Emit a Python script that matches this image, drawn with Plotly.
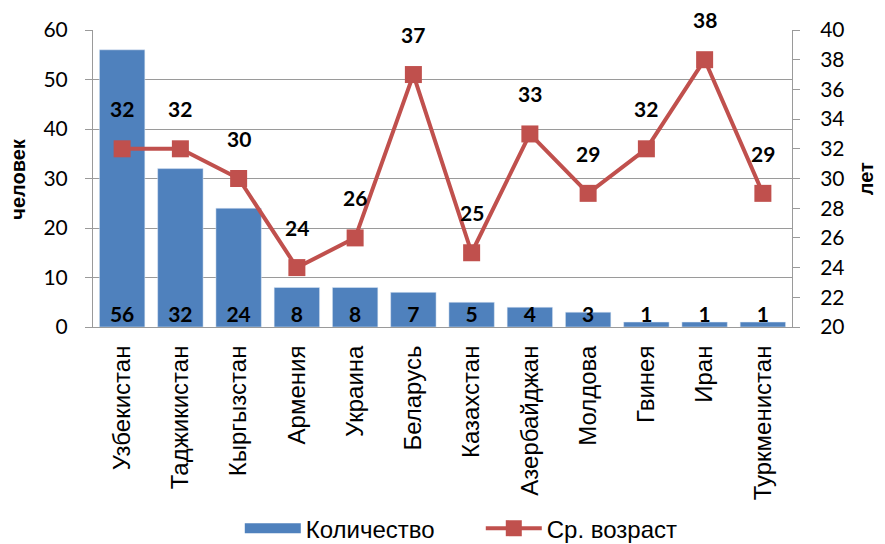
import plotly.graph_objects as go

countries = ["Узбекистан", "Таджикистан", "Кыргызстан", "Армения", "Украина", "Беларусь",
             "Казахстан", "Азербайджан", "Молдова", "Гвинея", "Иран", "Туркменистан"]
counts = [56, 32, 24, 8, 8, 7, 5, 4, 3, 1, 1, 1]
avg_age = [32, 32, 30, 24, 26, 37, 25, 33, 29, 32, 38, 29]

BLUE = "#4F81BD"
RED = "#C0504D"
NUM_FONT = "Lato"
TXT_FONT = "Liberation Sans"
GRID = "#9A9A9A"

fig = go.Figure()
fig.add_trace(go.Bar(
    x=countries, y=counts, name="Количество", marker_color=BLUE, showlegend=False,
))
# legend entry drawn as a wide bar, like the original
fig.add_trace(go.Scatter(
    x=[None], y=[None], name="Количество", mode="lines",
    line=dict(color=BLUE, width=12),
))
fig.add_trace(go.Scatter(
    x=countries, y=avg_age, name="Ср. возраст", yaxis="y2",
    mode="lines+markers", line=dict(color=RED, width=4),
    marker=dict(symbol="square", size=17, color=RED),
))
# bar value labels near the base
fig.add_trace(go.Scatter(
    x=countries, y=[0] * len(counts), mode="text", text=[str(v) for v in counts],
    texttemplate="<b>%{text}</b>",
    textposition="top center", textfont=dict(family=NUM_FONT, size=21, color="black"),
    showlegend=False, hoverinfo="skip",
))

for c, a in zip(countries, avg_age):
    fig.add_annotation(x=c, y=a, yref="y2", text=f"<b>{a}</b>", showarrow=False,
                       yshift=40, font=dict(family=NUM_FONT, size=21, color="black"))

# axis titles
fig.add_annotation(x=-0.127, y=0.5, xref="paper", yref="paper", text="<b>человек</b>",
                   textangle=-90, showarrow=False,
                   font=dict(family=TXT_FONT, size=20, color="black"))
fig.add_annotation(x=1.124, y=0.5, xref="paper", yref="paper", text="<b>лет</b>",
                   textangle=-90, showarrow=False,
                   font=dict(family=TXT_FONT, size=20, color="black"))

# page body adds an 8px margin, so the figure is 8px smaller and shifted back
fig.update_layout(
    width=877, height=536,
    margin=dict(l=85, r=93, t=22, b=217, autoexpand=False),
    plot_bgcolor="white", paper_bgcolor="white",
    font=dict(family=NUM_FONT, size=21, color="black"),
    bargap=0.22,
    xaxis=dict(
        range=[-0.5, len(countries) - 0.5],
        tickangle=-90, showline=True, linecolor=GRID, ticks="",
        tickfont=dict(family=TXT_FONT, size=24), automargin=False,
        ticklabelstandoff=8,
    ),
    yaxis=dict(
        range=[0, 60], dtick=10, showgrid=True, gridcolor=GRID, showline=True,
        linecolor=GRID, ticks="outside", ticklen=7, tickcolor=GRID, zeroline=False,
        automargin=False, ticklabelstandoff=13,
    ),
    yaxis2=dict(
        range=[20, 40], dtick=2, overlaying="y", side="right", showgrid=False,
        showline=True, linecolor=GRID, ticks="outside", ticklen=7, tickcolor=GRID,
        zeroline=False, automargin=False, ticklabelstandoff=16,
    ),
    legend=dict(orientation="h", x=0.21, xanchor="left", y=-0.603, yanchor="top",
                font=dict(family=TXT_FONT, size=24), entrywidth=170, itemwidth=56),
)

fig.write_html("out.html")
